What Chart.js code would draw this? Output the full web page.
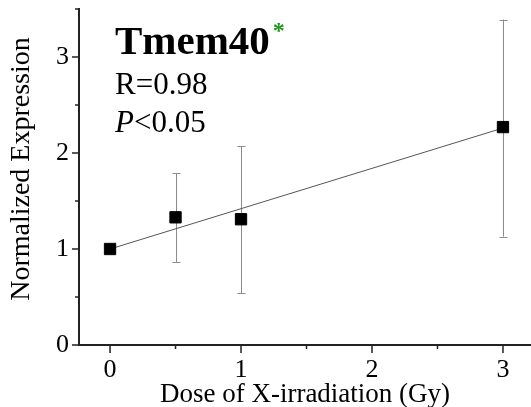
<!DOCTYPE html>
<html>
<head>
<meta charset="utf-8">
<title>Tmem40</title>
<script src="https://cdn.jsdelivr.net/npm/chart.js@4.4.1/dist/chart.umd.min.js"></script>
<style>
  html, body { margin: 0; padding: 0; background: #fff; }
  #wrap { width: 531px; height: 407px; }
</style>
</head>
<body>
<div id="wrap"><canvas id="myChart" width="531" height="407"></canvas></div>
<script>
// dose (Gy) and normalized expression, mean with upper / lower error
const doses = [0, 0.5, 1, 3];
const means = [1.0, 1.33, 1.31, 2.27];
const errHigh = [1.0, 1.79, 2.07, 3.39];
const errLow = [1.0, 0.86, 0.54, 1.13];

// linear fit endpoints
const fitX = [0, 3];
const fitY = [1.0, 2.26];

const xTicks = [0, 0.5, 1, 1.5, 2, 2.5, 3];
const yTicks = [0, 0.5, 1, 1.5, 2, 2.5, 3, 3.5];

const serif = "'Liberation Serif', 'Times New Roman', serif";

// vertical error bars with small caps
const errorBars = {
  id: 'errorBars',
  beforeDatasetsDraw(chart) {
    const { ctx, scales: { x, y } } = chart;
    ctx.save();
    ctx.strokeStyle = '#8c8c8c';
    ctx.lineWidth = 1;
    doses.forEach((d, i) => {
      const px = Math.round(x.getPixelForValue(d)) + 0.5;
      const top = y.getPixelForValue(errHigh[i]);
      const bot = y.getPixelForValue(errLow[i]);
      if (Math.abs(bot - top) < 1) return;
      ctx.beginPath();
      ctx.moveTo(px, top);
      ctx.lineTo(px, bot);
      ctx.moveTo(px - 4, Math.round(top) + 0.5);
      ctx.lineTo(px + 4, Math.round(top) + 0.5);
      ctx.moveTo(px - 4, Math.round(bot) + 0.5);
      ctx.lineTo(px + 4, Math.round(bot) + 0.5);
      ctx.stroke();
    });
    ctx.restore();
  }
};

// outward tick marks, shorter on the half steps
const axisTicks = {
  id: 'axisTicks',
  afterDraw(chart) {
    const { ctx, scales: { x, y } } = chart;
    ctx.save();
    ctx.strokeStyle = '#222';
    ctx.lineWidth = 1.5;
    ctx.beginPath();
    yTicks.forEach(v => {
      const py = y.getPixelForValue(v);
      const len = Number.isInteger(v) ? 7 : 4;
      ctx.moveTo(x.left, py);
      ctx.lineTo(x.left - len, py);
    });
    xTicks.forEach(v => {
      const px = x.getPixelForValue(v);
      const len = Number.isInteger(v) ? 8 : 4;
      ctx.moveTo(px, y.bottom);
      ctx.lineTo(px, y.bottom + len);
    });
    ctx.stroke();
    ctx.restore();
  }
};

// y axis title, gene name and statistics
const annotations = {
  id: 'annotations',
  afterDraw(chart) {
    const { ctx } = chart;
    ctx.save();
    ctx.fillStyle = '#000';

    ctx.save();
    ctx.translate(22, 169);
    ctx.rotate(-Math.PI / 2);
    ctx.textAlign = 'center';
    ctx.textBaseline = 'middle';
    ctx.font = "28px " + serif;
    ctx.fillText('Normalized Expression', 0, 0);
    ctx.restore();

    ctx.textBaseline = 'alphabetic';
    ctx.font = "bold 41px " + serif;
    ctx.fillText('Tmem40', 115, 54);
    const w = ctx.measureText('Tmem40').width;
    ctx.fillStyle = '#1a9a1a';
    ctx.font = "bold 24px " + serif;
    ctx.fillText('*', 115 + w + 3, 38);
    ctx.fillStyle = '#000';
    ctx.font = "31px " + serif;
    ctx.fillText('R=0.98', 115, 94);
    ctx.font = "italic 31px " + serif;
    ctx.fillText('P', 115, 132);
    const pw = ctx.measureText('P').width;
    ctx.font = "31px " + serif;
    ctx.fillText('<0.05', 115 + pw, 132);
    ctx.restore();
  }
};

new Chart(document.getElementById('myChart'), {
  type: 'scatter',
  data: {
    datasets: [
      {
        type: 'line',
        data: fitX.map((v, i) => ({ x: v, y: fitY[i] })),
        borderColor: '#555',
        borderWidth: 1,
        pointRadius: 0,
        fill: false,
        order: 2
      },
      {
        data: doses.map((v, i) => ({ x: v, y: means[i] })),
        pointStyle: 'rect',
        pointRadius: 8,
        backgroundColor: '#000',
        borderColor: '#000',
        borderWidth: 1,
        order: 1
      }
    ]
  },
  options: {
    responsive: false,
    animation: false,
    layout: { autoPadding: false, padding: { top: 9, right: 0, left: 0, bottom: 0 } },
    plugins: {
      legend: { display: false },
      tooltip: { enabled: false }
    },
    scales: {
      x: {
        type: 'linear',
        min: -0.237,
        max: 3.214,
        afterBuildTicks(scale) { scale.ticks = xTicks.map(v => ({ value: v })); },
        afterFit(scale) {
          scale.height = 62;
          scale.paddingLeft = 0;
          scale.paddingRight = 0;
        },
        grid: { display: false },
        border: { display: true, color: '#222', width: 2 },
        ticks: {
          padding: 2,
          color: '#000',
          maxRotation: 0,
          autoSkip: false,
          font: { family: serif, size: 26 },
          callback: v => Number.isInteger(v) ? String(v) : ''
        },
        title: {
          display: true,
          text: 'Dose of X-irradiation (Gy)',
          color: '#000',
          padding: { top: 0, bottom: -4 },
          font: { family: serif, size: 27 }
        }
      },
      y: {
        min: 0,
        max: 3.5,
        afterBuildTicks(scale) { scale.ticks = yTicks.map(v => ({ value: v })); },
        afterFit(scale) {
          scale.width = 79;
          scale.paddingTop = 0;
          scale.paddingBottom = 0;
        },
        grid: { display: false },
        border: { display: true, color: '#222', width: 2 },
        ticks: {
          padding: 2,
          color: '#000',
          autoSkip: false,
          font: { family: serif, size: 26 },
          callback: v => Number.isInteger(v) ? String(v) : ''
        }
      }
    }
  },
  plugins: [errorBars, axisTicks, annotations]
});
</script>
</body>
</html>
